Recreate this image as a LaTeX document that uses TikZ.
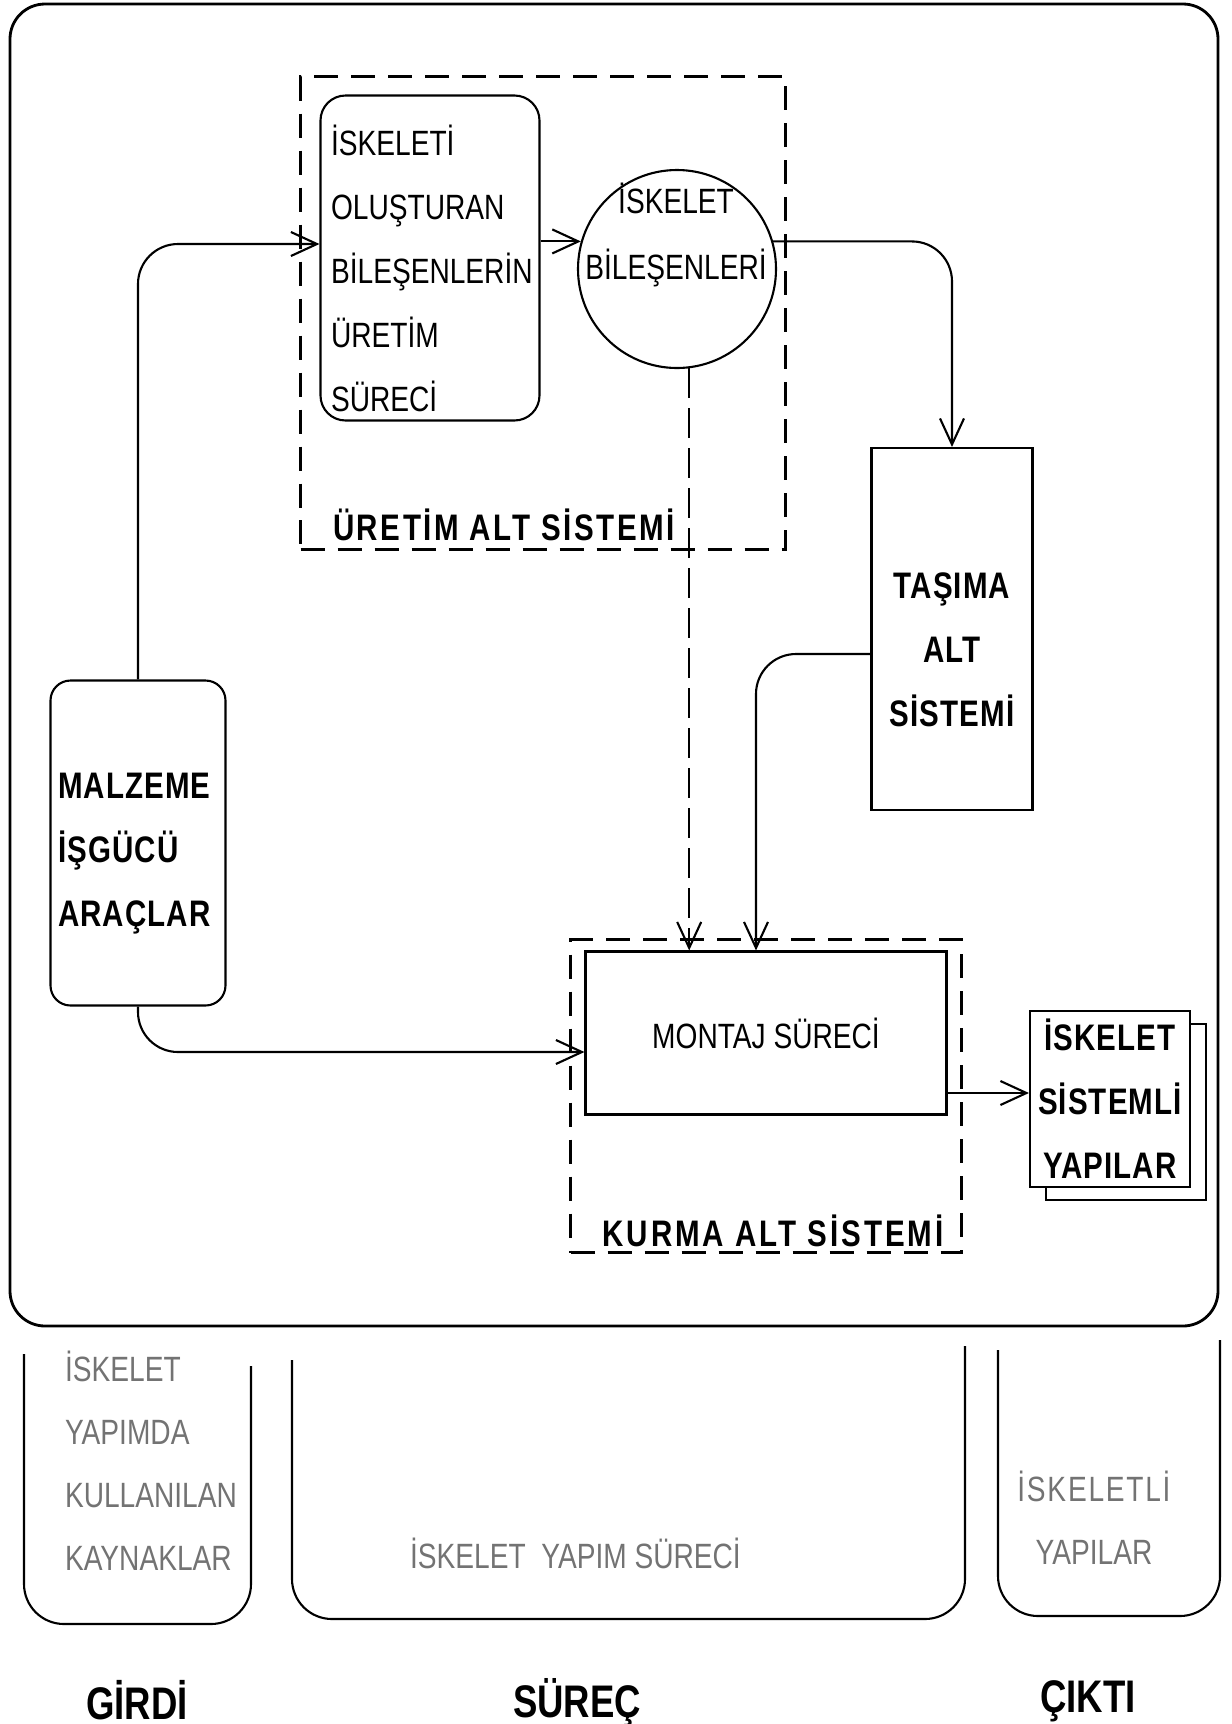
\documentclass[tikz,border=0pt]{standalone}
\usepackage{fontspec}
\setmainfont{Liberation Sans}[FakeStretch=0.8]
\usetikzlibrary{arrows.meta, shadows}

\begin{document}
\begin{tikzpicture}[x=0.1mm, y=-0.1mm, line width=0.6pt,
    conn/.style={-{Straight Barb[length=2.6mm,width=2.4mm]}, rounded corners=4mm},
    dconn/.style={conn, dash pattern=on 3mm off 1mm},
    sysbox/.style={draw, dash pattern=on 2.4mm off 1.3mm, inner sep=0pt},
    plain/.style={inner sep=0pt, font=\fontsize{10}{18.2}\selectfont},
    heavy/.style={inner sep=0pt, font=\bfseries\fontsize{10.5}{18.2}\selectfont\addfontfeature{LetterSpace=3}},
    faint/.style={inner sep=0pt, text=black!55, font=\fontsize{10}{17.9}\selectfont, align=left, anchor=west},
    big/.style={inner sep=0pt, font=\bfseries\fontsize{13}{15}\selectfont}]
  \useasboundingbox (0,0) rectangle (1232,1724);
  \draw[rounded corners=3.5mm, line width=0.8pt] (10,4) rectangle (1218,1326);

  \node[sysbox, minimum width=48.5mm, minimum height=47.3mm] (uretimsys) at (543,313) {};
  \node[heavy, anchor=west] (uretimlbl) at (332,525)
    {\addfontfeature{LetterSpace=7}ÜRETİM ALT SİSTEMİ};
  \node[draw, rounded corners=2.5mm, minimum width=21.9mm, minimum height=32.5mm] (uretim) at (430,258) {};
  \node[plain, align=left, anchor=west] (uretimtxt) at (330,268)
    {İSKELETİ\\OLUŞTURAN\\BİLEŞENLERİN\\ÜRETİM\\SÜRECİ};
  \node[draw, circle, minimum size=19.8mm, inner sep=0pt] (bilesen) at (677,269) {};
  \node[plain, align=center, font=\fontsize{10}{18.8}\selectfont] (bilesentxt) at (676,235)
    {İSKELET\\BİLEŞENLERİ};

  \node[draw, minimum width=16.1mm, minimum height=36.2mm] (tasima) at (952,629) {};
  \node[heavy, align=center] (tasimatxt) at (952,650) {TAŞIMA\\ALT\\SİSTEMİ};
  \node[draw, rounded corners=2mm, minimum width=17.5mm, minimum height=32.5mm] (malzeme) at (138,843) {};
  \node[heavy, align=left, anchor=west] (malzemetxt) at (57,854) {MALZEME\\İŞGÜCÜ\\ARAÇLAR};

  \node[sysbox, minimum width=39.1mm, minimum height=31.3mm] (kurma) at (766,1096) {};
  \node[heavy] (kurmalbl) at (773,1231) {\addfontfeature{LetterSpace=8}KURMA ALT SİSTEMİ};
  \node[draw, minimum width=36.1mm, minimum height=16.3mm, font=\fontsize{10}{12}\selectfont] (montaj) at (766,1033)
    {MONTAJ SÜRECİ};

  \node[draw, fill=white, copy shadow={shadow xshift=1.6mm, shadow yshift=-1.3mm},
        minimum width=16mm, minimum height=17.6mm, align=center, heavy, inner sep=0.5mm] (yapi) at (1110,1099)
    {İSKELET\\SİSTEMLİ\\YAPILAR};

  \draw[conn] (malzeme.north) |- ([yshift=1.4mm]uretim.west);
  \draw[conn] (bilesen.164 -| uretim.east) -- (bilesen.164);
  \draw[conn] (bilesen.16) -| (tasima.north);
  \draw[conn] ([yshift=-2.5mm]tasima.west) -| ([xshift=-1mm]montaj.north);
  \draw[dconn] (bilesen.-83) -- (bilesen.-83 |- montaj.north);
  \draw[conn] (malzeme.south) |- ([yshift=-1.9mm]montaj.west);
  \draw[conn] ([yshift=-6mm]montaj.east) -- ([yshift=-6mm]montaj.east -| yapi.west);

  \draw[rounded corners=4mm] (24,1354) -- (24,1624) -- (251,1624) -- (251,1366);
  \draw[rounded corners=4mm] (292,1360) -- (292,1619) -- (965,1619) -- (965,1346);
  \draw[rounded corners=4mm] (998,1350) -- (998,1616) -- (1220,1616) -- (1220,1340);

  \node[faint] (kaynak) at (64,1461) {İSKELET\\YAPIMDA\\KULLANILAN\\KAYNAKLAR};
  \node[faint] (surec) at (409,1553) {İSKELET\ \ YAPIM SÜRECİ};
  \node[faint, anchor=center, align=center] (yapilar) at (1094,1518)
    {\addfontfeature{LetterSpace=5}İSKELETLİ\\YAPILAR};

  \node[big] (girdi) at (137,1700) {GİRDİ};
  \node[big] (surecbaslik) at (577,1703) {SÜREÇ};
  \node[big] (cikti) at (1088,1701) {ÇIKTI};
\end{tikzpicture}
\end{document}
